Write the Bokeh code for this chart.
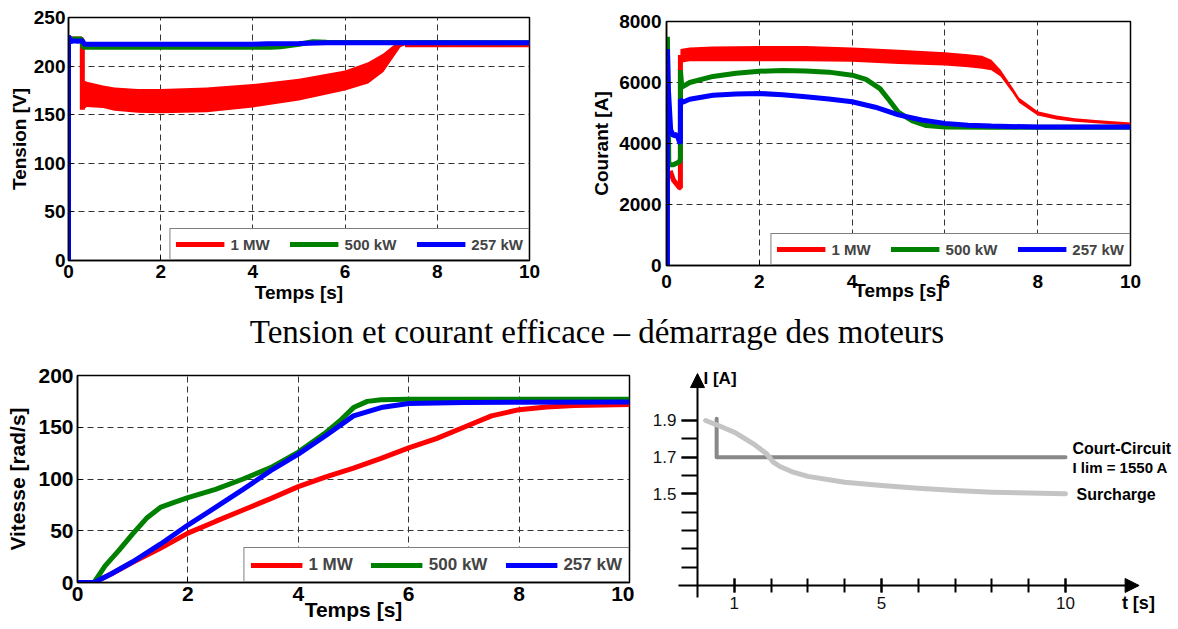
import math
from bokeh.plotting import figure
from bokeh.models import (Range1d, Legend, LegendItem, Div, LinearAxis, FixedTicker,
                          Arrow, NormalHead, Label)
from bokeh.layouts import column, row
from bokeh.embed import file_html
from bokeh.resources import INLINE

NAN = float("nan")

# ---------------- data ----------------
series_names = ["1 MW", "500 kW", "257 kW"]

# Panel 1 : Tension [V]
t1_red = [0.02, 0.28, 0.30, 0.30, NAN, 7.3, 10.0]
v1_red = [228, 228, 226, 155, NAN, 222, 222]
t1_band = [0.30, 0.40, 0.75, 1.0, 1.5, 2.0, 3.0, 4.0, 5.0, 6.0, 6.5, 6.83, 7.05, 7.2, 7.3]
v1_band_lo = [155, 158, 157, 154, 152, 151.5, 152.5, 157.5, 164.5, 175, 182, 194, 209, 219.5, 221.5]
v1_band_hi = [186, 184, 180, 178, 176.5, 176.5, 178, 181.5, 187, 195.5, 204, 213, 221.5, 222.5, 222.5]
t1_green = [0.02, 0.28, 0.32, 4.4, 4.6, 5.0, 5.3, 5.6, 10.0]
v1_green = [228, 228, 219.5, 219.5, 220, 222.5, 225, 224.5, 224]
t1_blue = [0.0, 0.0, 0.05, 0.1, 0.2, 0.3, 0.35, 4.0, 4.3, 5.0, 5.6, 10.0]
v1_blue = [0, 231, 225, 226, 225.5, 226, 222.5, 222.5, 223, 223.3, 224, 224]
x1_ticks = [0, 2, 4, 6, 8, 10]
y1_ticks = [0, 50, 100, 150, 200, 250]

# Panel 2 : Courant [A]
t2_red = [0.08, 0.15, 0.28, 0.30, 0.30]
v2_red = [3100, 2800, 2550, 2550, 6900]
t2_band = [0.30, 0.5, 1.0, 2.0, 3.0, 4.0, 5.0, 6.0, 6.5, 6.8, 7.0, 7.2, 7.45, 7.6, 8.0, 8.4, 8.8, 9.25, 10.0]
v2_band_lo = [6650, 6700, 6700, 6700, 6700, 6680, 6610, 6560, 6500, 6450, 6400, 6200, 5680, 5340, 4920, 4790, 4710, 4660, 4590]
v2_band_hi = [7100, 7150, 7180, 7200, 7200, 7150, 7070, 6990, 6930, 6880, 6750, 6420, 5850, 5500, 5060, 4920, 4830, 4770, 4690]
t2_green = [0.02, 0.02, 0.05, 0.15, 0.28, 0.30, 0.30, 0.33, 0.5, 1.0, 1.5, 2.0, 2.5, 3.0, 3.5, 4.0,
            4.3, 4.6, 4.8, 5.0, 5.3, 5.6, 6.0, 7.0, 10.0]
v2_green = [2000, 7500, 3300, 3300, 3400, 3500, 6400, 5850, 6000, 6200, 6300, 6370, 6390, 6380, 6340, 6240,
            6100, 5800, 5420, 5020, 4740, 4590, 4540, 4530, 4530]
t2_blue = [0.02, 0.02, 0.04, 0.09, 0.15, 0.22, 0.28, 0.30, 0.30, 0.35, 0.5, 1.0, 1.5, 2.0, 2.5, 3.0,
           3.5, 4.0, 4.5, 5.0, 5.5, 6.0, 6.5, 7.0, 8.0, 10.0]
v2_blue = [0, 7100, 5800, 4450, 4250, 4300, 4050, 4000, 5450, 5350, 5450, 5580, 5620, 5640, 5600, 5530,
           5460, 5370, 5190, 4940, 4770, 4660, 4600, 4570, 4540, 4540]
x2_ticks = [0, 2, 4, 6, 8, 10]
y2_ticks = [0, 2000, 4000, 6000, 8000]

# Panel 3 : Vitesse [rad/s]
t3_red = [0, 0.3, 0.6, 1, 1.5, 2, 2.5, 3, 3.5, 4, 4.5, 5, 5.5, 6, 6.5, 7, 7.5, 8, 8.5, 9, 10]
v3_red = [0, 0, 8, 19.5, 33, 47.7, 59, 70, 81, 92.6, 102, 110.6, 120, 130, 139, 150, 161, 167, 169.5, 171, 172]
t3_green = [0, 0.3, 0.5, 0.75, 1, 1.25, 1.5, 1.75, 2, 2.5, 3, 3.5, 4, 4.5, 4.75, 5, 5.25, 5.5, 6, 10]
v3_green = [0, 0, 16, 31, 47, 62, 72.5, 77.5, 82, 90, 100, 111, 126, 145, 156, 169, 175, 176.5, 177, 177]
t3_blue = [0, 0.3, 0.6, 1, 1.5, 2, 2.5, 3, 3.5, 4, 4.5, 5, 5.5, 6, 7, 10]
v3_blue = [0, 0, 8, 20, 37, 55.5, 72.5, 90, 108, 124, 142, 161, 169, 173, 174, 174.5]
x3_ticks = [0, 2, 4, 6, 8, 10]
y3_ticks = [0, 50, 100, 150, 200]

# Panel 4 : schematic I(t)
t4_cc = [0.52, 0.52, 10.0]
i4_cc = [1.91, 1.70, 1.70]
t4_sur = [0.22, 0.6, 1.0, 1.52, 1.88, 2.06, 2.24, 2.6, 3.0, 4.0, 5.0, 6.0, 7.0, 8.0, 9.0, 10.0]
i4_sur = [1.90, 1.87, 1.836, 1.773, 1.718, 1.673, 1.649, 1.618, 1.595, 1.563, 1.545, 1.531, 1.518,
          1.509, 1.504, 1.50]
x4_major = [1, 5, 10]
x4_minor = [1, 2, 3, 4, 5, 6, 7, 8, 9, 10]
y4_major = [1.5, 1.7, 1.9]
y4_minor = [1.1, 1.2, 1.3, 1.4, 1.5, 1.6, 1.7, 1.8, 1.9]

caption = "Tension et courant efficace \u2013 d\u00e9marrage des moteurs"

RED, GREEN, BLUE = "#ff0000", "#008000", "#0000ff"
FONT = "Liberation Sans"


def style_matlab(p, xt, yt, tick_fs, label_fs):
    p.outline_line_color = "black"
    p.outline_line_width = 1.5
    p.background_fill_color = "white"
    p.border_fill_color = "white"
    p.xaxis.ticker = xt
    p.yaxis.ticker = yt
    for ax in p.axis:
        ax.major_label_text_font = FONT
        ax.major_label_text_font_style = "bold"
        ax.major_label_text_font_size = tick_fs
        ax.major_label_text_color = "black"
        ax.axis_label_text_font = FONT
        ax.axis_label_text_font_style = "bold"
        ax.axis_label_text_font_size = label_fs
        ax.axis_label_text_color = "black"
        ax.major_tick_in = 5
        ax.major_tick_out = 0
        ax.minor_tick_line_color = None
        ax.axis_line_width = 1.5
        ax.axis_line_color = "black"
        ax.major_tick_line_color = "black"
    p.grid.grid_line_color = "#333333"
    p.grid.grid_line_dash = "6 4"
    p.grid.grid_line_width = 1


def add_legend(p, renderers, fs, glyph_w, spacing, padding, lab_h):
    items = [LegendItem(label=n, renderers=[r]) for n, r in zip(series_names, renderers)]
    lg = Legend(items=items, location="bottom_right", orientation="horizontal", margin=0,
                padding=padding, spacing=spacing, label_standoff=6, glyph_width=glyph_w,
                glyph_height=20, label_height=lab_h, border_line_color="black",
                border_line_width=1.5, label_text_font=FONT, label_text_font_style="bold",
                label_text_font_size=fs, background_fill_color="white", background_fill_alpha=1.0)
    p.add_layout(lg)


# ---------------- panel 1 ----------------
p1 = figure(width=588, height=310, x_range=Range1d(0, 10), y_range=Range1d(0, 250),
            min_border_left=68, min_border_right=59, min_border_top=17, min_border_bottom=50,
            toolbar_location=None, output_backend="svg")
p1.varea(x=t1_band, y1=v1_band_lo, y2=v1_band_hi, fill_color=RED)
r1r = p1.line(t1_red, v1_red, line_color=RED, line_width=5)
r1g = p1.line(t1_green, v1_green, line_color=GREEN, line_width=5)
r1b = p1.line(t1_blue, v1_blue, line_color=BLUE, line_width=5)
style_matlab(p1, x1_ticks, y1_ticks, "19px", "19px")
p1.xaxis.axis_label = "Temps [s]"
p1.yaxis.axis_label = "Tension [V]"
p1.xaxis.major_label_standoff = 4
p1.xaxis.axis_label_standoff = 1
p1.yaxis.major_label_standoff = 3
p1.yaxis.axis_label_standoff = 1
add_legend(p1, [r1r, r1g, r1b], "15px", 49, 20, 5, 20)

# ---------------- panel 2 ----------------
p2 = figure(width=588, height=310, x_range=Range1d(0, 10), y_range=Range1d(0, 8000),
            min_border_left=76, min_border_right=46, min_border_top=21, min_border_bottom=45,
            toolbar_location=None, output_backend="svg")
p2.varea(x=t2_band, y1=v2_band_lo, y2=v2_band_hi, fill_color=RED)
r2r = p2.line(t2_red, v2_red, line_color=RED, line_width=5)
r2g = p2.line(t2_green, v2_green, line_color=GREEN, line_width=5)
r2b = p2.line(t2_blue, v2_blue, line_color=BLUE, line_width=5)
style_matlab(p2, x2_ticks, y2_ticks, "19px", "19px")
p2.xaxis.axis_label = "Temps [s]"
p2.yaxis.axis_label = "Courant [A]"
p2.xaxis.major_label_standoff = 9
p2.xaxis.axis_label_standoff = -11
p2.yaxis.major_label_standoff = 5
p2.yaxis.axis_label_standoff = 4
add_legend(p2, [r2r, r2g, r2b], "15px", 49, 20, 5, 20)

# ---------------- caption ----------------
cap = Div(text=('<div style="width:1176px;height:45px;line-height:45px;text-align:center;'
                'padding-left:18px;box-sizing:border-box;font-family:\'Liberation Serif\',serif;'
                'font-size:33px;color:black;white-space:nowrap;">' + caption + '</div>'),
          width=1176, height=45, margin=0)

# ---------------- panel 3 ----------------
p3 = figure(width=634, height=272, x_range=Range1d(0, 10), y_range=Range1d(0, 200),
            min_border_left=77, min_border_right=5, min_border_top=20, min_border_bottom=45,
            toolbar_location=None, output_backend="svg")
r3r = p3.line(t3_red, v3_red, line_color=RED, line_width=5)
r3g = p3.line(t3_green, v3_green, line_color=GREEN, line_width=5)
r3b = p3.line(t3_blue, v3_blue, line_color=BLUE, line_width=5)
style_matlab(p3, x3_ticks, y3_ticks, "21px", "21px")
p3.xaxis.axis_label = "Temps [s]"
p3.yaxis.axis_label = "Vitesse [rad/s]"
p3.xaxis.major_label_standoff = 4
p3.xaxis.axis_label_standoff = -6
p3.yaxis.major_label_standoff = 4
p3.yaxis.axis_label_standoff = 6
add_legend(p3, [r3r, r3g, r3b], "17px", 52, 18, 6, 21)

# ---------------- panel 4 ----------------
p4 = figure(width=542, height=272, x_range=Range1d(-1.712, 13.016), y_range=Range1d(0.7707, 2.2546),
            x_axis_type=None, y_axis_type=None, min_border=0,
            toolbar_location=None, output_backend="svg")
p4.outline_line_color = None
p4.line(t4_cc, i4_cc, line_color="#888888", line_width=4, line_cap="round", line_join="round")
p4.line(t4_sur, i4_sur, line_color="#c4c4c4", line_width=5, line_cap="round", line_join="round")

yax = LinearAxis(fixed_location=0, bounds=(0.934, 2.12),
                 ticker=FixedTicker(ticks=y4_major, minor_ticks=y4_minor),
                 major_tick_out=16, major_tick_in=0, minor_tick_out=16, minor_tick_in=0,
                 axis_line_width=2, major_tick_line_width=2, minor_tick_line_width=2,
                 major_label_standoff=5, major_label_text_font=FONT,
                 major_label_text_font_size="17px", major_label_text_color="#111111")
xax = LinearAxis(fixed_location=1.0, bounds=(-0.52, 11.85),
                 ticker=FixedTicker(ticks=x4_major, minor_ticks=x4_minor),
                 major_tick_out=7, major_tick_in=7, minor_tick_out=7, minor_tick_in=7,
                 axis_line_width=2, major_tick_line_width=2, minor_tick_line_width=2,
                 major_label_standoff=5, major_label_text_font=FONT,
                 major_label_text_font_size="17px", major_label_text_color="#111111")
p4.add_layout(yax, "left")
p4.add_layout(xax, "below")
p4.add_layout(Arrow(end=NormalHead(size=14, fill_color="black", line_color="black"),
                    x_start=0, y_start=2.10, x_end=0, y_end=2.156, line_width=2, line_color="black"))
p4.add_layout(Arrow(end=NormalHead(size=14, fill_color="black", line_color="black"),
                    x_start=11.8, y_start=1.0, x_end=12.0, y_end=1.0, line_width=2, line_color="black"))

lab_kw = dict(text_font=FONT, text_font_style="bold", text_baseline="middle", text_color="black")
p4.add_layout(Label(x=0, y=2.129, x_offset=6, text="I [A]", text_font_size="17px", **lab_kw))
p4.add_layout(Label(x=11.98, y=0.907, text="t [s]", text_align="center", text_font_size="18px", **lab_kw))
p4.add_layout(Label(x=10.19, y=1.747, text="Court-Circuit", text_font_size="16px", **lab_kw))
p4.add_layout(Label(x=10.19, y=1.644, text="I lim = 1550 A", text_font_size="15px", **lab_kw))
p4.add_layout(Label(x=10.30, y=1.496, text="Surcharge", text_font_size="16px", **lab_kw))

layout = column(row(p1, column(p2)), cap, row(p3, column(p4)))
open("out.html", "w").write(file_html(layout, INLINE, "chart"))
